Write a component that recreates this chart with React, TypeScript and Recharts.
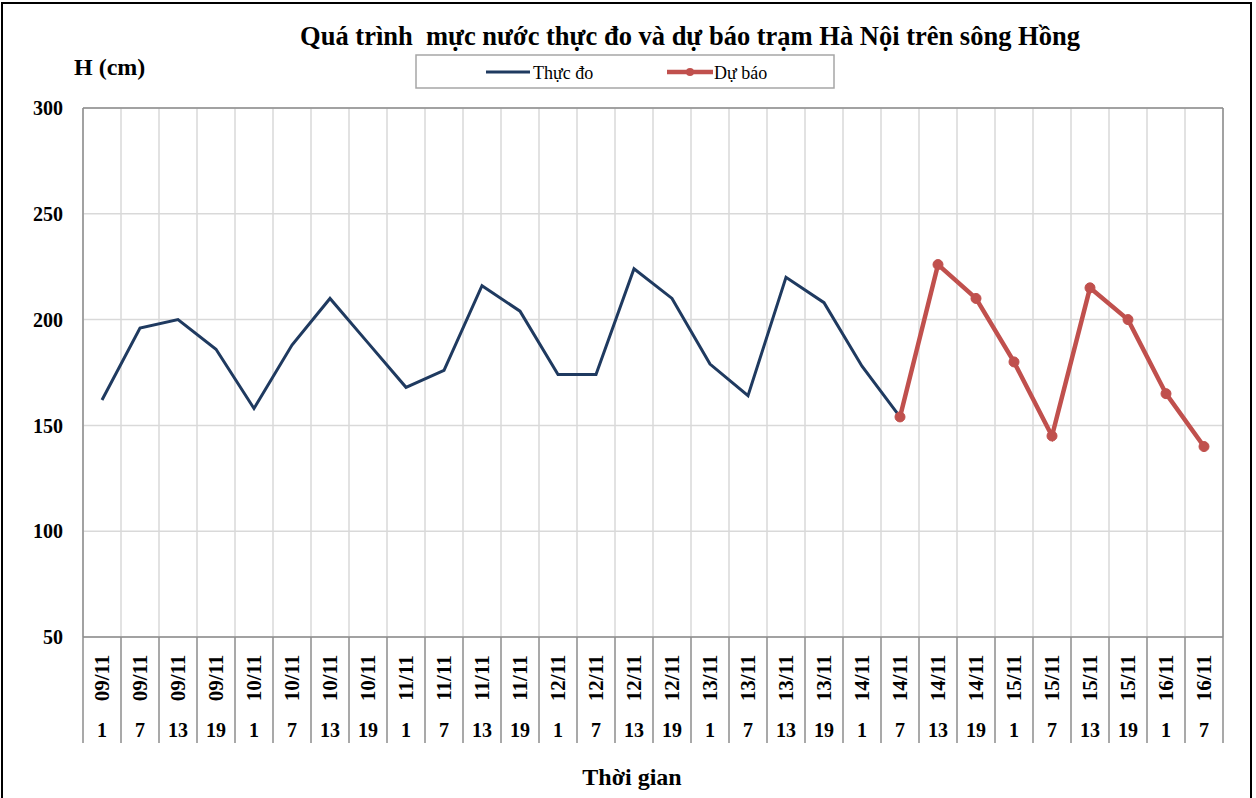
import { CartesianGrid, Line, LineChart, XAxis, YAxis } from "recharts";

const dates = [
  "09/11", "09/11", "09/11", "09/11",
  "10/11", "10/11", "10/11", "10/11",
  "11/11", "11/11", "11/11", "11/11",
  "12/11", "12/11", "12/11", "12/11",
  "13/11", "13/11", "13/11", "13/11",
  "14/11", "14/11", "14/11", "14/11",
  "15/11", "15/11", "15/11", "15/11",
  "16/11", "16/11",
];
const hours = [1, 7, 13, 19, 1, 7, 13, 19, 1, 7, 13, 19, 1, 7, 13, 19, 1, 7, 13, 19, 1, 7, 13, 19, 1, 7, 13, 19, 1, 7];

// Thực đo (observed)
const actual = [
  162, 196, 200, 186, 158, 188, 210, 189, 168, 176, 216, 204, 174, 174, 224, 210, 179, 164, 220, 208, 178, 154,
  null, null, null, null, null, null, null, null,
];
// Dự báo (forecast)
const forecast = [
  null, null, null, null, null, null, null, null, null, null, null, null, null, null, null, null, null, null, null, null, null,
  154, 226, 210, 180, 145, 215, 200, 165, 140,
];
const yTicks = [50, 100, 150, 200, 250, 300];

const data = dates.map((d, i) => ({
  key: `${d}-${hours[i]}-${i}`,
  actual: actual[i],
  forecast: forecast[i],
}));

const W = 1256;
const H = 798;
const FONT = '"Liberation Serif", "Times New Roman", serif';
const NAVY = "#1f3a60";
const RED = "#c0504d";
const AXIS = "#8c8c8c";
const GRID = "#d9d9d9";

const MARGIN = { top: 108, right: 33, bottom: 0, left: 0 };
const Y_W = 83;
const X_H = 161;
const N = dates.length;
const PLOT_W = W - MARGIN.left - MARGIN.right - Y_W;
const BW = PLOT_W / N;

function CategoryTick(props: any) {
  const { x, y, index } = props;
  const left = x - BW / 2;
  const right = x + BW / 2;
  return (
    <g>
      <line x1={left} x2={left} y1={y} y2={y + 106} stroke={AXIS} strokeWidth={1.5} />
      {index === N - 1 && <line x1={right} x2={right} y1={y} y2={y + 106} stroke={AXIS} strokeWidth={1.5} />}
      <text
        transform={`translate(${x + 7},${y + 41}) rotate(-90)`}
        textAnchor="middle"
        fontFamily={FONT}
        fontWeight="bold"
        fontSize={21}
        fill="#000"
      >
        {dates[index]}
      </text>
      <text x={x} y={y + 100} textAnchor="middle" fontFamily={FONT} fontWeight="bold" fontSize={20} fill="#000">
        {hours[index]}
      </text>
    </g>
  );
}

export default function App() {
  return (
    <div style={{ position: "absolute", left: 0, top: 0, width: W, height: H, overflow: "hidden", background: "#fff" }}>
      <div
        style={{
          position: "absolute",
          left: 1,
          top: 2,
          width: 1247,
          height: 840,
          border: "2px solid #000",
        }}
      />
      <div style={{ position: "absolute", left: 0, top: 0 }}>
        <LineChart width={W} height={H} data={data} margin={MARGIN}>
          <CartesianGrid
            stroke={GRID}
            strokeWidth={1.5}
            verticalCoordinatesGenerator={({ offset }: any) =>
              Array.from({ length: N + 1 }, (_, k) => offset.left + (k * offset.width) / N)
            }
          />
          <CartesianGrid
            stroke={AXIS}
            strokeWidth={1.5}
            horizontalCoordinatesGenerator={({ offset }: any) => [offset.top]}
            verticalCoordinatesGenerator={({ offset }: any) => [offset.left + offset.width]}
          />
          <XAxis
            dataKey="key"
            interval={0}
            height={X_H}
            padding={{ left: BW / 2, right: BW / 2 }}
            tickLine={false}
            tickSize={0}
            tickMargin={0}
            axisLine={{ stroke: AXIS, strokeWidth: 1.5 }}
            tick={<CategoryTick />}
          />
          <YAxis
            width={Y_W}
            domain={[50, 300]}
            ticks={yTicks}
            interval={0}
            tickLine={false}
            tickSize={0}
            tickMargin={20}
            axisLine={{ stroke: AXIS, strokeWidth: 1.5 }}
            tick={{ fontFamily: FONT, fontWeight: "bold", fontSize: 20, fill: "#000" }}
          />
          <Line
            type="linear"
            dataKey="actual"
            stroke={NAVY}
            strokeWidth={3}
            dot={false}
            activeDot={false}
            isAnimationActive={false}
          />
          <Line
            type="linear"
            dataKey="forecast"
            stroke={RED}
            strokeWidth={4.5}
            dot={{ r: 5, fill: RED, stroke: RED, strokeWidth: 1 }}
            activeDot={false}
            isAnimationActive={false}
          />
        </LineChart>
      </div>
      <svg
        width={W}
        height={H}
        style={{ position: "absolute", left: 0, top: 0, pointerEvents: "none" }}
        fontFamily={FONT}
      >
        <text x={690} y={45} textAnchor="middle" fontWeight="bold" fontSize={26.5} fill="#000">
          {"Quá trình\u00a0 mực nước thực đo và dự báo trạm Hà Nội trên sông Hồng"}
        </text>
        <text x={74} y={75} fontWeight="bold" fontSize={24} fill="#000">
          H (cm)
        </text>
        <text x={632} y={785} textAnchor="middle" fontWeight="bold" fontSize={24} fill="#000">
          Thời gian
        </text>
        <rect x={416} y={55} width={418} height={33} fill="#fff" stroke="#a6a6a6" strokeWidth={1.5} />
        <line x1={486} x2={530} y1={72} y2={72} stroke={NAVY} strokeWidth={3} />
        <text x={533} y={79} fontSize={18} fill="#000">
          Thực đo
        </text>
        <line x1={667} x2={713} y1={72} y2={72} stroke={RED} strokeWidth={4.5} />
        <circle cx={690} cy={72} r={4} fill={RED} />
        <text x={714} y={79} fontSize={18} fill="#000">
          Dự báo
        </text>
      </svg>
    </div>
  );
}
